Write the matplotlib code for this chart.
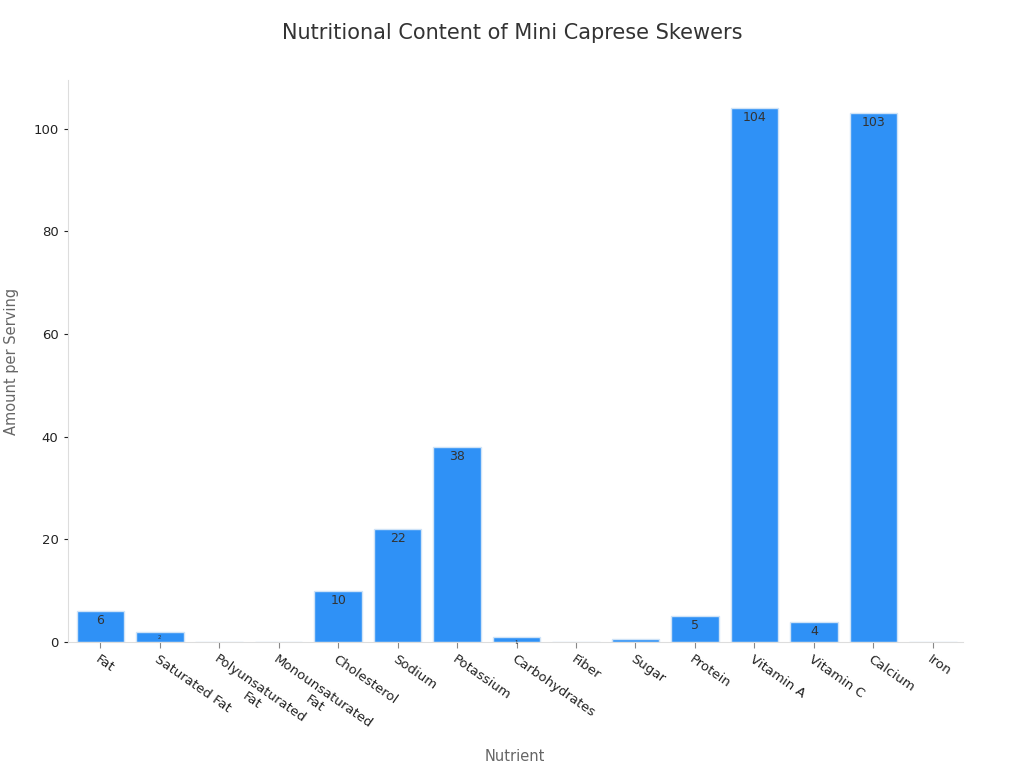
import matplotlib.pyplot as plt

nutrients = ["Fat", "Saturated Fat", "Polyunsaturated\nFat", "Monounsaturated\nFat", "Cholesterol",
             "Sodium", "Potassium", "Carbohydrates", "Fiber", "Sugar", "Protein", "Vitamin A",
             "Vitamin C", "Calcium", "Iron"]
amounts = [6, 2, 0, 0, 10, 22, 38, 1, 0.1, 0.5, 5, 104, 4, 103, 0.1]

BAR = "#2f91f6"
TEXT = "#333333"

fig, ax = plt.subplots(figsize=(10.24, 7.68), dpi=100)
fig.subplots_adjust(left=0.066, right=0.94, top=0.896, bottom=0.164)

bars = ax.bar(range(len(nutrients)), amounts, width=0.8, color=BAR, edgecolor="#cfe3f7", linewidth=1)
for b, v in zip(bars, amounts):
    if v < 0.9:
        continue
    fs = 9 if v >= 4 else 4
    ax.text(b.get_x() + b.get_width() / 2, v - 0.6, f"{v:g}", ha="center", va="top",
            fontsize=fs, color=TEXT)

ax.set_xlim(-0.55, len(nutrients) - 0.5)
ax.set_ylim(0, 109.5)
ax.set_xticks(range(len(nutrients)))
ax.set_xticklabels(nutrients, rotation=-35, ha="left", rotation_mode="anchor", fontsize=9.5,
                   color="#222222", multialignment="center")
ax.tick_params(axis="y", labelsize=9.5, colors="#222222", length=3)
ax.tick_params(axis="x", length=4, colors="#888888", labelcolor="#222222")
for s in ("top", "right"):
    ax.spines[s].set_visible(False)
for s in ("left", "bottom"):
    ax.spines[s].set_color("#dddddd")

ax.set_xlabel("Nutrient", fontsize=10.5, color="#666666")
ax.xaxis.set_label_coords(0.5, -0.19)
ax.set_ylabel("Amount per Serving", fontsize=10.5, color="#666666", labelpad=10)
fig.suptitle("Nutritional Content of Mini Caprese Skewers", fontsize=15, color=TEXT, y=0.97)

fig.savefig("out.png", dpi=100)
